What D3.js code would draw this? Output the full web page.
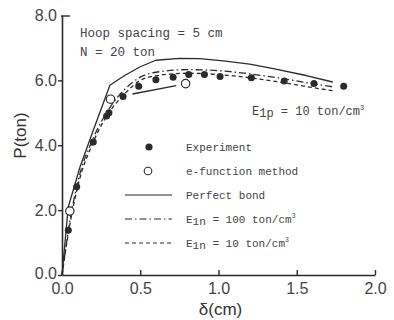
<!DOCTYPE html>
<html>
<head>
<meta charset="utf-8">
<script src="https://cdn.jsdelivr.net/npm/d3@7"></script>
<style>
  body { margin: 0; background: #fff; }
  svg { display: block; }
</style>
</head>
<body>
<div id="chart"></div>
<script>
const xTicks = [0, 0.5, 1.0, 1.5, 2.0];
const yTicks = [0, 2, 4, 6, 8];

// filled circles
const experiment = [
  [0.04, 1.38], [0.094, 2.72], [0.20, 4.1], [0.285, 4.9], [0.30, 5.0], [0.39, 5.5],
  [0.49, 5.82], [0.60, 6.02], [0.71, 6.10], [0.81, 6.18], [0.91, 6.18],
  [1.01, 6.12], [1.21, 6.08], [1.42, 5.98], [1.61, 5.9], [1.80, 5.82]
];
// open circles
const eFunction = [[0.05, 1.97], [0.31, 5.42], [0.79, 5.9]];
const eFunctionSegment = [[0.45, 5.58], [0.73, 5.84]];

const perfectBond = [
  [0, 0], [0.04, 2.1], [0.072, 2.62], [0.115, 3.33], [0.2, 4.46], [0.306, 5.85],
  [0.4, 6.15], [0.5, 6.42], [0.6, 6.62], [0.75, 6.68], [0.88, 6.67],
  [1.03, 6.6], [1.2, 6.5], [1.35, 6.36], [1.56, 6.15], [1.73, 5.95]
];
const e1n100 = [
  [0, 0], [0.05, 1.65], [0.1, 2.85], [0.2, 4.22], [0.3, 5.12], [0.4, 5.72],
  [0.5, 6.1], [0.6, 6.25], [0.8, 6.33], [1.0, 6.3], [1.2, 6.2], [1.4, 6.06],
  [1.6, 5.9], [1.73, 5.8]
];
const e1n10 = [
  [0, 0], [0.05, 1.55], [0.1, 2.72], [0.2, 4.1], [0.3, 5.0], [0.4, 5.58],
  [0.5, 6.0], [0.6, 6.14], [0.8, 6.22], [1.0, 6.18], [1.2, 6.08], [1.4, 5.94],
  [1.6, 5.78], [1.73, 5.68]
];

const W = 394, H = 320;
const ink = '#2b2b2b';
const mono = '"Liberation Mono", "DejaVu Sans Mono", monospace';
const sans = '"Liberation Sans", Arial, sans-serif';

const svg = d3.select('#chart').append('svg').attr('width', W).attr('height', H);

const x = d3.scaleLinear().domain([0, 2]).range([62, 375]);
const y = d3.scaleLinear().domain([0, 8]).range([275, 15.5]);

// x axis, ticks pointing up
const xAxis = svg.append('g')
  .attr('transform', `translate(0,${y(0)})`)
  .call(d3.axisBottom(x).tickValues(xTicks).tickFormat(d3.format('.1f')).tickSizeInner(-5).tickSizeOuter(0).tickPadding(2));
xAxis.selectAll('text').attr('font-size', 16).attr('font-family', sans).attr('fill', '#444').attr('dy', '1.05em');
xAxis.select('.domain').attr('stroke', ink).attr('stroke-width', 1.6);
xAxis.selectAll('.tick line').attr('stroke', ink).attr('stroke-width', 1.4);

// y axis
const yAxis = svg.append('g')
  .attr('transform', `translate(${x(0)},0)`)
  .call(d3.axisLeft(y).tickValues(yTicks).tickFormat(d3.format('.1f')).tickSizeInner(4).tickSizeOuter(0).tickPadding(1));
yAxis.selectAll('text').attr('font-size', 16).attr('font-family', sans).attr('fill', '#444');
yAxis.selectAll('.tick').filter(d => d === 0).select('text').attr('dy', '0.2em');
yAxis.select('.domain').attr('stroke', ink).attr('stroke-width', 1.6);
yAxis.selectAll('.tick line').attr('stroke', ink).attr('stroke-width', 1.4);
yAxis.selectAll('.tick').filter(d => d === 8).select('line').attr('x1', -1).attr('x2', 8);

// axis titles
svg.append('text')
  .attr('transform', `translate(26,${y(4.3)}) rotate(-90)`)
  .attr('text-anchor', 'middle')
  .attr('font-family', sans).attr('font-size', 17).attr('fill', '#333')
  .text('P(ton)');
svg.append('text')
  .attr('x', x(1.0) + 2).attr('y', 315)
  .attr('text-anchor', 'middle')
  .attr('font-family', sans).attr('font-size', 17).attr('fill', '#333')
  .text('δ(cm)');

// curves
const smooth = d3.line().x(d => x(d[0])).y(d => y(d[1])).curve(d3.curveMonotoneX);
const straight = d3.line().x(d => x(d[0])).y(d => y(d[1]));
const curves = [
  { data: perfectBond, dash: null, gen: straight },
  { data: e1n100, dash: '7,3,1.5,3', gen: smooth },
  { data: e1n10, dash: '4,3', gen: smooth }
];
curves.forEach(c => {
  svg.append('path').datum(c.data)
    .attr('fill', 'none').attr('stroke', ink).attr('stroke-width', 1.3)
    .attr('stroke-linejoin', 'round')
    .attr('stroke-dasharray', c.dash)
    .attr('d', c.gen);
});
svg.append('path').datum(eFunctionSegment)
  .attr('fill', 'none').attr('stroke', ink).attr('stroke-width', 1.4)
  .attr('d', straight);

// points
svg.append('g').selectAll('circle').data(experiment).join('circle')
  .attr('cx', d => x(d[0])).attr('cy', d => y(d[1])).attr('r', 3.5)
  .attr('fill', ink);
svg.append('g').selectAll('circle').data(eFunction).join('circle')
  .attr('cx', d => x(d[0])).attr('cy', d => y(d[1])).attr('r', 4.2)
  .attr('fill', '#fff').attr('stroke', ink).attr('stroke-width', 1.2);

// annotations
const note = (tx, ty, size) => svg.append('text')
  .attr('x', tx).attr('y', ty)
  .attr('font-family', mono).attr('font-size', size).attr('fill', '#444');
note(80, 37, 12.5).text('Hoop spacing = 5 cm');
note(80, 56, 12.5).text('N = 20 ton');
const e1p = note(252, 115, 12);
e1p.append('tspan').text('E');
e1p.append('tspan').attr('dy', 1.5).text('1p');
e1p.append('tspan').attr('dy', -1.5).text(' = 10 ton/cm');
e1p.append('tspan').attr('dy', -5).attr('font-size', 7).text('3');

// legend
const legend = [
  { type: 'dot', label: ['Experiment'] },
  { type: 'open', label: ['e-function method'] },
  { type: 'line', dash: null, label: ['Perfect bond'] },
  { type: 'line', dash: '7,3,1.5,3', label: ['E', '1n', ' = 100 ton/cm', '3'] },
  { type: 'line', dash: '4,3', label: ['E', '1n', ' = 10 ton/cm', '3'] }
];
const ly = d3.scalePoint().domain(d3.range(legend.length)).range([147, 243]);
legend.forEach((item, i) => {
  const cy = ly(i);
  if (item.type === 'dot') {
    svg.append('circle').attr('cx', 149).attr('cy', cy).attr('r', 3.6).attr('fill', ink);
  } else if (item.type === 'open') {
    svg.append('circle').attr('cx', 148).attr('cy', cy).attr('r', 3.8)
      .attr('fill', '#fff').attr('stroke', ink).attr('stroke-width', 1.1);
  } else {
    svg.append('line').attr('x1', 125).attr('x2', 172).attr('y1', cy).attr('y2', cy)
      .attr('stroke', ink).attr('stroke-width', 1.2).attr('stroke-dasharray', item.dash);
  }
  const t = svg.append('text').attr('x', 186).attr('y', cy + 4)
    .attr('font-family', mono).attr('font-size', 11).attr('fill', '#444');
  if (item.label.length === 1) {
    t.text(item.label[0]);
  } else {
    t.append('tspan').text(item.label[0]);
    t.append('tspan').attr('dy', 1.5).text(item.label[1]);
    t.append('tspan').attr('dy', -1.5).text(item.label[2]);
    t.append('tspan').attr('dy', -5).attr('font-size', 6.5).text(item.label[3]);
  }
});
</script>
</body>
</html>
